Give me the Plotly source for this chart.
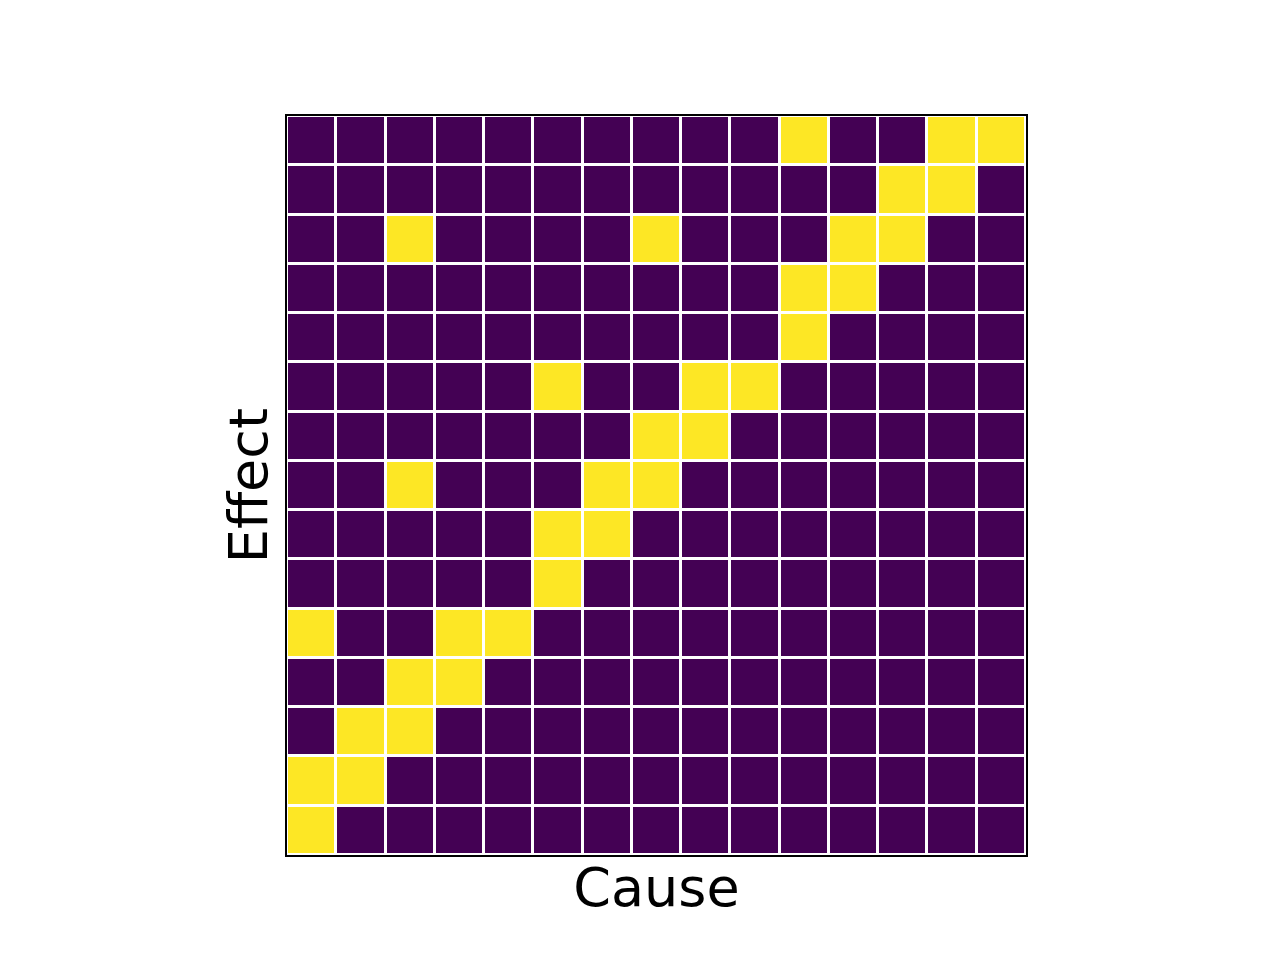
"""Binary cause/effect adjacency matrix drawn as a heatmap."""

import plotly.graph_objects as go

# 15 variables; row = effect (top to bottom), column = cause (left to right)
n_vars = 15
cause_idx = list(range(n_vars))
effect_idx = list(range(n_vars))

links = [
    [0, 0, 0, 0, 0, 0, 0, 0, 0, 0, 1, 0, 0, 1, 1],
    [0, 0, 0, 0, 0, 0, 0, 0, 0, 0, 0, 0, 1, 1, 0],
    [0, 0, 1, 0, 0, 0, 0, 1, 0, 0, 0, 1, 1, 0, 0],
    [0, 0, 0, 0, 0, 0, 0, 0, 0, 0, 1, 1, 0, 0, 0],
    [0, 0, 0, 0, 0, 0, 0, 0, 0, 0, 1, 0, 0, 0, 0],
    [0, 0, 0, 0, 0, 1, 0, 0, 1, 1, 0, 0, 0, 0, 0],
    [0, 0, 0, 0, 0, 0, 0, 1, 1, 0, 0, 0, 0, 0, 0],
    [0, 0, 1, 0, 0, 0, 1, 1, 0, 0, 0, 0, 0, 0, 0],
    [0, 0, 0, 0, 0, 1, 1, 0, 0, 0, 0, 0, 0, 0, 0],
    [0, 0, 0, 0, 0, 1, 0, 0, 0, 0, 0, 0, 0, 0, 0],
    [1, 0, 0, 1, 1, 0, 0, 0, 0, 0, 0, 0, 0, 0, 0],
    [0, 0, 1, 1, 0, 0, 0, 0, 0, 0, 0, 0, 0, 0, 0],
    [0, 1, 1, 0, 0, 0, 0, 0, 0, 0, 0, 0, 0, 0, 0],
    [1, 1, 0, 0, 0, 0, 0, 0, 0, 0, 0, 0, 0, 0, 0],
    [1, 0, 0, 0, 0, 0, 0, 0, 0, 0, 0, 0, 0, 0, 0],
]

fig = go.Figure()

fig.add_trace(
    go.Heatmap(
        z=links,
        x=cause_idx,
        y=effect_idx,
        colorscale=[[0, '#440154'], [1, '#fde725']],
        zmin=0,
        zmax=1,
        showscale=False,
        xgap=3,
        ygap=3,
        hoverinfo='skip',
    )
)

axis_style = dict(
    showticklabels=False,
    ticks='',
    showgrid=False,
    zeroline=False,
    showline=True,
    mirror=True,
    linecolor='black',
    linewidth=2,
)

# page body adds an 8px offset, so margins are shifted to compensate
fig.update_layout(
    width=1280,
    height=960,
    margin=dict(l=279, r=262, t=108, b=113),
    plot_bgcolor='white',
    paper_bgcolor='white',
    font=dict(family='DejaVu Sans', color='black'),
    xaxis=dict(
        range=[-0.5, n_vars - 0.5],
        title=dict(text='Cause', font=dict(size=54), standoff=12),
        **axis_style
    ),
    yaxis=dict(
        range=[n_vars - 0.5, -0.5],
        title=dict(text='Effect', font=dict(size=54), standoff=0),
        **axis_style
    ),
)

fig.write_html('out.html')
